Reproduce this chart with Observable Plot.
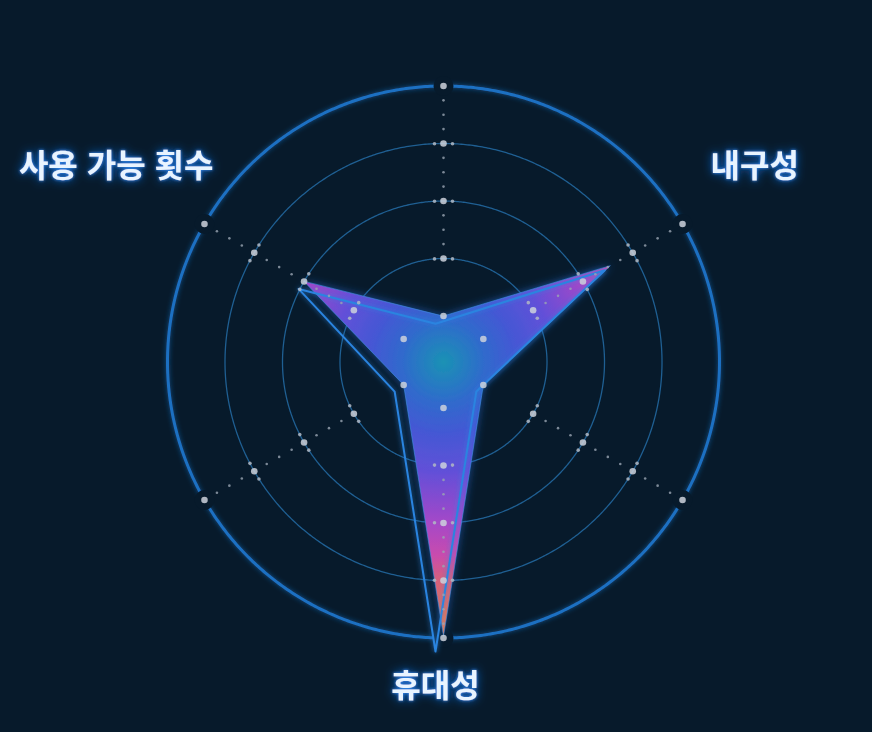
<!DOCTYPE html>
<html lang="ko">
<head>
<meta charset="utf-8">
<script src="https://cdn.jsdelivr.net/npm/d3@7"></script>
<script src="https://cdn.jsdelivr.net/npm/@observablehq/plot@0.6"></script>
<style>
  html, body { margin: 0; padding: 0; background: #071a2b; overflow: hidden; }
  #chart { width: 872px; height: 732px; }
</style>
</head>
<body>
<div id="chart"></div>
<script>
// ---------------- data ----------------
const axisNames = ["", "내구성", "", "휴대성", "", "사용 가능 횟수"];
const fillValues = [1.0, 3.55, 1.0, 4.97, 1.0, 3.0];
const lineValues = [0.97, 3.6, 1.02, 5.13, 1.02, 2.95];
const ringValues = [1, 2, 3, 4, 5];
const radialMin = 0.2;

// ---------------- layout / style ----------------
const W = 872, H = 732;
const CX = 443, CY = 361.5, R = 276;
const BG = "#071a2b";
const radialMax = ringValues[ringValues.length - 1];
const pxPerUnit = R / (radialMax - radialMin);

const n = axisNames.length;
const lon = (i) => 180 - (i * 360) / n;       // clockwise from top
const lat = (v) => 90 - (v - radialMin);      // distance from centre

const axisIdx = d3.range(n);
const fillPts = fillValues.map((v, i) => ({i, v}));
const linePts = lineValues.map((v, i) => ({i, v}));
const crossings = axisIdx.flatMap((i) => ringValues.map((v) => ({i, v})));
const between = axisIdx.flatMap((i) =>
  ringValues.slice(1, -1).flatMap((v) => [0.25, 0.5, 0.75].map((k) => ({i, v: v + k}))));
const sideGap = 9; // px along the ring
const sideDots = axisIdx.flatMap((i) =>
  ringValues.slice(1, -1).flatMap((v) => [-1, 1].map((s) => ({
    lon: lon(i) + s * (sideGap / ((v - radialMin) * pxPerUnit)) * 180 / Math.PI, v
  }))));

const labelStyle = {
  "내구성": {dx: 28, dy: -57, anchor: "start"},
  "휴대성": {dx: -8, dy: 49, anchor: "middle"},
  "사용 가능 횟수": {dx: 9, dy: -57, anchor: "end"}
};
const labelMarks = axisIdx.filter((i) => axisNames[i]).map((i) => {
  const s = labelStyle[axisNames[i]];
  return Plot.text([i], {
    x: lon, y: lat(radialMax), text: (d) => axisNames[d],
    dx: s.dx, dy: s.dy, textAnchor: s.anchor,
    fontFamily: "'Noto Sans CJK KR', 'Noto Sans', sans-serif",
    fontSize: 32, fontWeight: 700, fill: "#e8f4ff"
  });
});

const circle = (v) => d3.geoCircle().center([0, 90]).radius(v - radialMin).precision(0.5)();

const svg = Plot.plot({
  width: W, height: H,
  marginLeft: CX - R, marginRight: W - CX - R,
  marginTop: CY - R, marginBottom: H - CY - R,
  projection: {
    type: "azimuthal-equidistant",
    rotate: [0, -90],
    domain: circle(radialMax),
    clip: false
  },
  style: {background: BG, overflow: "visible"},
  marks: [
    Plot.geo(ringValues.slice(1, -1), {geometry: circle, fill: "none", stroke: "#1f5f92", strokeWidth: 1.3}),
    Plot.geo([radialMax], {geometry: circle, fill: "none", stroke: "#1d70c2", strokeWidth: 3}),
    Plot.dot(axisIdx, {x: lon, y: lat(radialMax), r: 10, fill: BG, stroke: "none"}),
    Plot.line(fillPts, {
      x: (d) => lon(d.i), y: (d) => lat(d.v), curve: "linear-closed",
      fill: "url(#radarFill)", stroke: "#3f8fe6", strokeWidth: 1, strokeOpacity: 0.6
    }),
    Plot.line(linePts, {
      x: (d) => lon(d.i), y: (d) => lat(d.v), curve: "linear-closed",
      dx: -8, dy: 6, fill: "none", stroke: "#2a84e0", strokeWidth: 2
    }),
    Plot.dot(between, {x: (d) => lon(d.i), y: (d) => lat(d.v), r: 1.3, fill: "#9aa5b3", fillOpacity: 0.8, stroke: "none"}),
    Plot.dot(sideDots, {x: "lon", y: (d) => lat(d.v), r: 1.8, fill: "#b0b8c4", fillOpacity: 0.85, stroke: "none"}),
    Plot.dot(crossings, {x: (d) => lon(d.i), y: (d) => lat(d.v), r: 3.3, fill: "#cdd2dc", fillOpacity: 0.85, stroke: "none"}),
    ...labelMarks
  ]
});

// gradient + glow filters
const defs = d3.select(svg).insert("defs", ":first-child");
const grad = defs.append("radialGradient").attr("id", "radarFill")
  .attr("gradientUnits", "userSpaceOnUse").attr("cx", CX).attr("cy", CY).attr("r", R);
[[0, "#1a92b4"], [0.15, "#306acc"], [0.26, "#4458d4"], [0.4, "#6250d8"], [0.58, "#a448c8"],
 [0.7, "#c84cae"], [0.79, "#d6607c"], [0.9, "#e2705e"], [1, "#ea8058"]].forEach(([o, c]) =>
  grad.append("stop").attr("offset", o).attr("stop-color", c));

function glow(id, std, color, op) {
  const f = defs.append("filter").attr("id", id)
    .attr("x", "-30%").attr("y", "-30%").attr("width", "160%").attr("height", "160%");
  f.append("feDropShadow").attr("dx", 0).attr("dy", 0).attr("stdDeviation", std)
    .attr("flood-color", color).attr("flood-opacity", op);
}
glow("ringGlow", 2.5, "#1d70c2", 0.7);
glow("fillGlow", 4, "#2a6fe0", 0.55);
glow("lineGlow", 2.5, "#2a84e0", 0.8);
const tf = defs.append("filter").attr("id", "textGlow")
  .attr("x", "-20%").attr("y", "-50%").attr("width", "140%").attr("height", "200%");
tf.append("feDropShadow").attr("dx", 0).attr("dy", 0).attr("stdDeviation", 1.5)
  .attr("flood-color", "#3a95ff").attr("flood-opacity", 1);
tf.append("feDropShadow").attr("dx", 0).attr("dy", 0).attr("stdDeviation", 5)
  .attr("flood-color", "#1c6fe0").attr("flood-opacity", 0.8);

const geoGs = svg.querySelectorAll('g[aria-label="geo"]');
if (geoGs.length) geoGs[geoGs.length - 1].setAttribute("filter", "url(#ringGlow)");
const lineGs = svg.querySelectorAll('g[aria-label="line"]');
if (lineGs[0]) lineGs[0].setAttribute("filter", "url(#fillGlow)");
if (lineGs[1]) lineGs[1].setAttribute("filter", "url(#lineGlow)");
svg.querySelectorAll('g[aria-label="text"]').forEach((g) => g.setAttribute("filter", "url(#textGlow)"));

document.getElementById("chart").append(svg);
</script>
</body>
</html>
